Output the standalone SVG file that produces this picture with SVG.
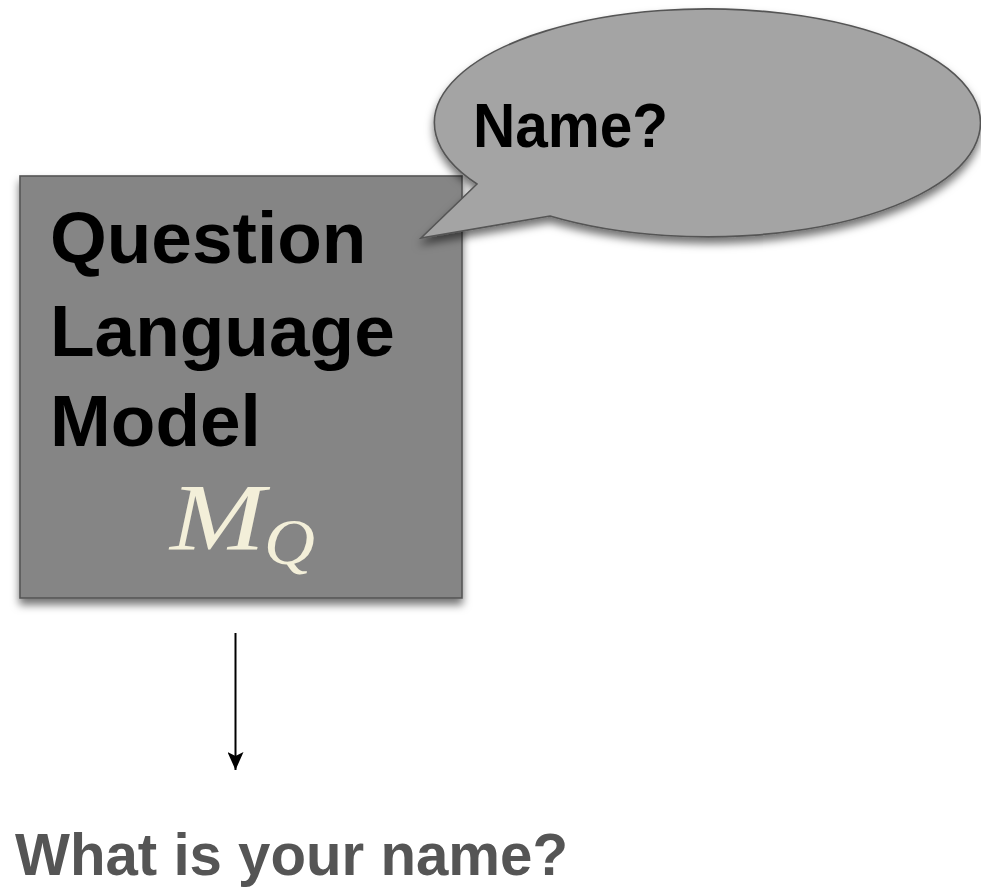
<svg xmlns="http://www.w3.org/2000/svg" width="981" height="890" viewBox="0 0 981 890">
  <style>
    .label { font-family: "Liberation Sans", Arial, Helvetica, sans-serif; font-weight: bold; fill: #000; }
    .math { font-family: "Liberation Serif", "Times New Roman", serif; font-style: italic; fill: #f3efd9; }
    .shape { stroke: #555; stroke-width: 1.6; }
  </style>
  <defs>
    <filter id="shadow" x="-10%" y="-10%" width="120%" height="130%">
      <feDropShadow dx="0" dy="6" stdDeviation="4" flood-color="#000" flood-opacity="0.55"/>
    </filter>
    <marker id="arrowhead" markerWidth="18" markerHeight="16" refX="18" refY="8" orient="auto" markerUnits="userSpaceOnUse" viewBox="0 0 18 16">
      <path d="M0,0 L18,8 L0,16 L4,8 Z" fill="#000"/>
    </marker>
  </defs>
  <rect width="981" height="890" fill="#fff"/>

  <!-- Question language model box -->
  <g id="question-model">
    <rect class="shape" x="20" y="176" width="442" height="422" fill="#858585" filter="url(#shadow)"/>
    <text class="label" x="50" y="263" font-size="73">Question</text>
    <text class="label" x="50" y="356" font-size="73">Language</text>
    <text class="label" x="50" y="446" font-size="73">Model</text>
    <text class="math" x="170" y="550" font-size="96" textLength="95" lengthAdjust="spacingAndGlyphs">M</text>
    <text class="math" x="264" y="564" font-size="66" textLength="51" lengthAdjust="spacingAndGlyphs">Q</text>
  </g>

  <!-- Speech bubble -->
  <g id="speech-bubble">
    <path class="shape" d="M477,184 L421,238 L550,216 A273,114 0 1 0 477,184 Z" fill="#a4a4a4" filter="url(#shadow)"/>
    <text class="label" x="473" y="147" font-size="63" textLength="195" lengthAdjust="spacingAndGlyphs">Name?</text>
  </g>

  <!-- Connectors -->
  <g id="connectors">
    <line x1="235.5" y1="633" x2="235.5" y2="770" stroke="#000" stroke-width="2" marker-end="url(#arrowhead)"/>
  </g>

  <!-- Generated question -->
  <g id="output-question">
    <text class="label" x="15" y="875" font-size="59" style="fill:#555" textLength="553" lengthAdjust="spacingAndGlyphs">What is your name?</text>
  </g>
</svg>
